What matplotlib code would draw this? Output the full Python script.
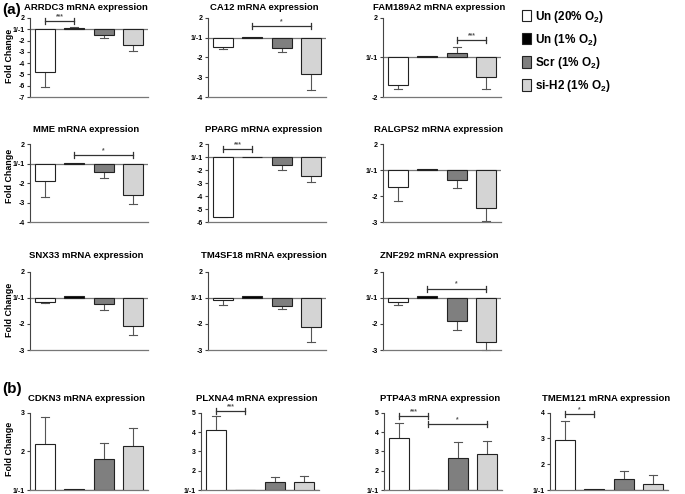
import matplotlib
matplotlib.use('Agg')
import matplotlib.pyplot as plt
from matplotlib.patches import Patch
import numpy as np

plt.rcParams['font.family'] = ['Liberation Sans', 'DejaVu Sans']
plt.rcParams['font.weight'] = 'bold'
plt.rcParams['mathtext.fontset'] = 'custom'
plt.rcParams['mathtext.rm'] = 'Liberation Sans:bold'
plt.rcParams['mathtext.bf'] = 'Liberation Sans:bold'
plt.rcParams['mathtext.default'] = 'bf'

# ---------------- data (fold change, mean and one-sided SD) ----------------
groups = ['Un (20% O$_2$)', 'Un (1% O$_2$)', 'Scr (1% O$_2$)', 'si-H2 (1% O$_2$)']
bar_colors = ['white', 'black', '#7f7f7f', '#d4d4d4']

# panel (a): down-regulated genes
genes_a = ['ARRDC3', 'CA12', 'FAM189A2', 'MME', 'PPARG', 'RALGPS2',
           'SNX33', 'TM4SF18', 'ZNF292']
un20_a = [-4.8, -1.47, -1.69, -1.92, -5.6, -1.66, -1.15, -1.10, -1.17]
un20_err_a = [1.3, 0.08, 0.11, 0.78, 0.03, 0.54, 0.04, 0.16, 0.09]
un1_a = [1.10, 1.03, 1.03, 1.05, 1.02, 1.04, 1.05, 1.05, 1.05]
un1_err_a = [0.08, 0, 0, 0, 0, 0, 0, 0, 0]
scr_a = [-1.47, -1.52, 1.11, -1.45, -1.62, -1.40, -1.22, -1.32, -1.87]
scr_err_a = [0.26, 0.20, 0.16, 0.30, 0.38, 0.28, 0.23, 0.10, 0.35]
sih2_a = [-2.42, -2.84, -1.49, -2.60, -2.46, -2.48, -2.09, -2.13, -2.71]
sih2_err_a = [0.53, 0.82, 0.31, 0.50, 0.44, 0.47, 0.33, 0.57, 0.29]
ymin_a = [-7, -4, -2, -4, -6, -3, -3, -3, -3]
# (gene, bar from, bar to, fold level, label)
brackets_a = [('ARRDC3', 0, 1, 1.75, '***'), ('CA12', 1, 3, 1.6, '*'),
              ('FAM189A2', 2, 3, 1.45, '***'), ('MME', 1, 3, 1.45, '*'),
              ('PPARG', 0, 1, 1.64, '***'), ('ZNF292', 1, 3, 1.35, '*')]

# panel (b): up-regulated genes
genes_b = ['CDKN3', 'PLXNA4', 'PTP4A3', 'TMEM121']
un20_b = [2.20, 4.10, 3.71, 2.95]
un20_err_b = [0.68, 0.72, 0.77, 0.74]
un1_b = [1.03, 1.02, 1.02, 1.03]
un1_err_b = [0, 0, 0, 0]
scr_b = [1.81, 1.43, 2.67, 1.43]
scr_err_b = [0.40, 0.23, 0.83, 0.31]
sih2_b = [2.15, 1.40, 2.84, 1.23]
sih2_err_b = [0.45, 0.34, 0.71, 0.35]
ymax_b = [3, 5, 5, 4]
brackets_b = [('PLXNA4', 0, 1, 5.07, '***'), ('PTP4A3', 0, 1, 4.84, '***'),
              ('PTP4A3', 1, 3, 4.41, '*'), ('TMEM121', 0, 1, 3.96, '*')]


def to_pos(v):
    # GraphPad style fold change axis: 1 and -1 share the same baseline
    return v - 1 if v >= 0 else v + 1


def tick_label(p):
    if p == 0:
        return '1/-1'
    return str(p + 1) if p > 0 else str(p - 1)


W, H = 685, 494
fig = plt.figure(figsize=(W / 100, H / 100), dpi=100)


def make_axes(left, top, bottom, width=118):
    return fig.add_axes([left / W, 1 - bottom / H, width / W, (bottom - top) / H])


def draw_gene(ax, gene, vals, errs, ylo, yhi, brackets, title_y):
    x = np.arange(4)
    pos = [to_pos(v) for v in vals]
    ax.bar(x, pos, width=0.67, color=bar_colors, edgecolor='#222222',
           linewidth=0.8, zorder=3)
    for xi, p, v, e in zip(x, pos, vals, errs):
        if e <= 0:
            continue
        end = to_pos(v - e) if v < 0 else to_pos(v + e)
        ax.plot([xi, xi], [p, end], color='#555555', lw=0.8, zorder=2, clip_on=False)
        ax.plot([xi - 0.13, xi + 0.13], [end, end], color='#555555', lw=0.8,
                zorder=2, clip_on=False)
    ax.axhline(0, color='#777777', lw=0.9, zorder=1)
    ax.set_xlim(-0.5, 3.5)
    ax.set_ylim(ylo, yhi)
    ticks = list(range(yhi, ylo - 1, -1))
    ax.set_yticks(ticks)
    ax.set_yticklabels([tick_label(t) for t in ticks], fontsize=5, fontweight='bold')
    ax.set_xticks([])
    for s in ['top', 'right']:
        ax.spines[s].set_visible(False)
    ax.spines['left'].set_color('#444444')
    ax.spines['left'].set_linewidth(0.8)
    ax.spines['bottom'].set_color('#777777')
    ax.spines['bottom'].set_linewidth(0.9)
    ax.tick_params(axis='y', length=2.5, width=0.8, color='#444444', pad=1)
    ax.set_facecolor('none')
    for g, i, j, lvl, lab in brackets:
        if g != gene:
            continue
        yb = to_pos(lvl)
        cap = (yhi - ylo) * 0.04
        ax.plot([i, j], [yb, yb], color='#333333', lw=0.9, clip_on=False)
        for xb in (i, j):
            ax.plot([xb, xb], [yb - cap, yb + cap], color='#333333', lw=0.9, clip_on=False)
        ax.text((i + j) / 2, yb + cap * 0.3, lab, ha='center', va='bottom',
                fontsize=4.8, color='#555555', clip_on=False)
    bb = ax.get_position()
    fig.text((bb.x0 + bb.x1) / 2 - 3 / W, 1 - title_y / H, gene + ' mRNA expression',
             ha='center', va='center', fontsize=6.8, fontweight='bold')


# ---------------- panel (a) ----------------
cols_a = [30, 208, 383]
rows_a = [(18, 97, 7), (144, 222, 130), (271.7, 350, 255)]
for k, gene in enumerate(genes_a):
    top, bot, ty = rows_a[k // 3]
    ax = make_axes(cols_a[k % 3], top, bot)
    vals = [un20_a[k], un1_a[k], scr_a[k], sih2_a[k]]
    errs = [un20_err_a[k], un1_err_a[k], scr_err_a[k], sih2_err_a[k]]
    draw_gene(ax, gene, vals, errs, to_pos(ymin_a[k]), 1, brackets_a, ty)

# ---------------- panel (b) ----------------
cols_b = [30, 201, 384, 550]
for k, gene in enumerate(genes_b):
    ax = make_axes(cols_b[k], 412.7, 490)
    vals = [un20_b[k], un1_b[k], scr_b[k], sih2_b[k]]
    errs = [un20_err_b[k], un1_err_b[k], scr_err_b[k], sih2_err_b[k]]
    draw_gene(ax, gene, vals, errs, 0, to_pos(ymax_b[k]), brackets_b, 398)

# axis labels and panel letters
for yc in [56, 176, 310, 449]:
    fig.text(10 / W, 1 - yc / H, 'Fold Change', rotation=90, ha='center',
             va='center', fontsize=6.4, fontweight='bold')
fig.text(2 / W, 1 - 10 / H, '(a)', ha='left', va='center', fontsize=11, fontweight='bold')
fig.text(2 / W, 1 - 389 / H, '(b)', ha='left', va='center', fontsize=11, fontweight='bold')

# legend
handles = [Patch(facecolor=c, edgecolor='#222222', linewidth=0.8) for c in bar_colors]
fig.legend(handles, groups, loc='upper left', bbox_to_anchor=(517 / W, 1 - 4 / H),
           frameon=False, fontsize=8.5, handlelength=0.75, handleheight=1.1,
           handletextpad=0.4, labelspacing=0.6, borderaxespad=0)

fig.savefig('out.png', dpi=100, facecolor='white')
